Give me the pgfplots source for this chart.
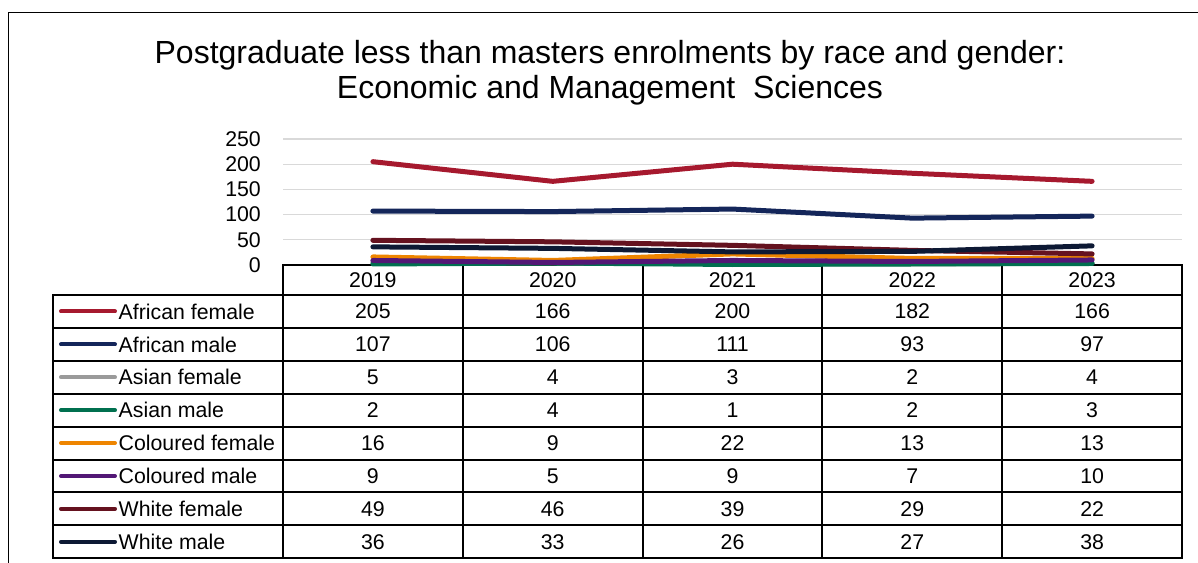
\documentclass[border=0pt]{standalone}
\usepackage{pgfplots}
\pgfplotsset{compat=1.18}
\usepackage{pgfplotstable}
\usepackage{fontspec}
\setmainfont{Liberation Sans}

\definecolor{cAF}{HTML}{A6192E}
\definecolor{cAM}{HTML}{14265A}
\definecolor{cASF}{HTML}{9A9A9A}
\definecolor{cASM}{HTML}{00704F}
\definecolor{cCF}{HTML}{EE8500}
\definecolor{cCM}{HTML}{521775}
\definecolor{cWF}{HTML}{65121F}
\definecolor{cWM}{HTML}{0D1934}
\definecolor{gridc}{HTML}{D9D9D9}

\pgfplotstableread{
x AF AM ASF ASM CF CM WF WM
0 205 107 5 2 16 9 49 36
1 166 106 4 4 9 5 46 33
2 200 111 3 1 22 9 39 26
3 182 93 2 2 13 7 29 27
4 166 97 4 3 13 10 22 38
}\data

\newcommand{\tfont}{\fontsize{21.3bp}{24bp}\selectfont}

\begin{document}
\begin{tikzpicture}
\useasboundingbox (0,0) rectangle (1198bp,-563bp);
% outer frame
\draw[line width=1.5bp] (8.3bp,-600bp) -- (8.3bp,-12.3bp) -- (1250bp,-12.3bp);
% title
\node[anchor=base, inner sep=0pt, font=\fontsize{32bp}{36bp}\selectfont] at (610bp,-63.5bp) {Postgraduate less than masters enrolments by race and gender:};
\node[anchor=base, inner sep=0pt, font=\fontsize{32bp}{36bp}\selectfont] at (610bp,-98.5bp) {Economic and Management\ \ Sciences};
% data table grid
\begin{scope}[line width=2bp, line cap=rect]
\draw (283bp,-265bp) -- (1182bp,-265bp);
\foreach \xx in {283,463,643,822,1002,1182} {\draw (\xx bp,-265bp) -- (\xx bp,-558bp);}
\draw (53bp,-295bp) -- (53bp,-558bp);
\foreach \i in {0,...,8} {\draw (53bp,{-(295+32.9*\i)*1bp}) -- (1182bp,{-(295+32.9*\i)*1bp});}
\end{scope}
% legend keys
\foreach \c/\n [count=\i from 0] in {cAF/African female, cAM/African male, cASF/Asian female, cASM/Asian male, cCF/Coloured female, cCM/Coloured male, cWF/White female, cWM/White male} {
  \draw[\c, line width=4bp, line cap=round] (61bp,{-(311.45+32.9*\i)*1bp}) -- (115bp,{-(311.45+32.9*\i)*1bp});
  \node[anchor=base west, inner sep=0pt, font=\tfont] at (118.5bp,{-(319.1+32.9*\i)*1bp}) {\n};
}
\begin{axis}[
  at={(283bp,-265bp)}, anchor=south west,
  scale only axis, width=899bp, height=126bp,
  xmin=-0.5, xmax=4.5, ymin=0, ymax=250,
  axis line style={draw=none},
  ytick={50,100,...,250},
  extra y ticks={0}, extra y tick style={grid=none},
  ymajorgrids, grid style={color=gridc, line width=1.3bp},
  major tick length=0pt,
  xtick={0,...,4}, xticklabels={2019,2020,2021,2022,2023},
  xticklabel style={anchor=base, inner sep=0pt, yshift=-22.5bp, font=\tfont},
  yticklabel style={anchor=east, inner sep=0pt, xshift=-22bp, font=\tfont},
  /pgf/number format/assume math mode=true,
  clip=false,
  every axis plot/.append style={line width=5bp, line cap=round, line join=round, mark=none},
]
\addplot[cAF] table[x=x,y=AF] {\data};
\addplot[cAM] table[x=x,y=AM] {\data};
\addplot[cASF] table[x=x,y=ASF] {\data};
\addplot[cASM] table[x=x,y=ASM] {\data};
\addplot[cCF] table[x=x,y=CF] {\data};
\addplot[cCM] table[x=x,y=CM] {\data};
\addplot[cWF] table[x=x,y=WF] {\data};
\addplot[cWM] table[x=x,y=WM] {\data};
% table values
\pgfplotsforeachungrouped \col/\i in {AF/0,AM/1,ASF/2,ASM/3,CF/4,CM/5,WF/6,WM/7} {
  \edef\tmp{\noexpand\addplot[draw=none, mark=none, forget plot, nodes near coords, point meta=explicit,
     nodes near coords style={anchor=center, inner sep=0pt, font=\noexpand\tfont, text=black}]
     table[x=x, y expr={-92.16-65.28*\i}, meta=\col] {\noexpand\data};}
  \tmp
}
\end{axis}
\end{tikzpicture}
\end{document}
